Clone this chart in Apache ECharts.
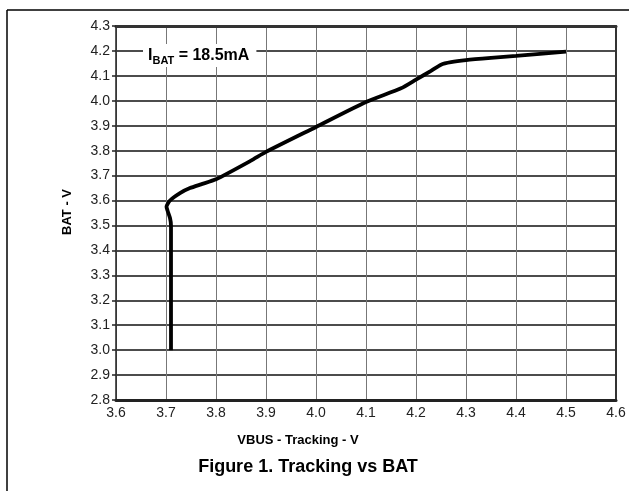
<!DOCTYPE html>
<html>
<head>
<meta charset="utf-8">
<script src="https://cdn.jsdelivr.net/npm/echarts@6/dist/echarts.min.js"></script>
<style>
  html, body { margin: 0; padding: 0; background: #fff; }
  #chart { width: 629px; height: 491px; }
</style>
</head>
<body>
<div id="chart"></div>
<script>
// VBUS tracking (x) vs BAT voltage (y)
const vbus = [3.71, 3.71, 3.71, 3.708, 3.703, 3.701, 3.708, 3.728, 3.748, 3.77, 3.80, 3.87, 3.90, 4.00, 4.10, 4.17, 4.20, 4.23, 4.25, 4.27, 4.30, 4.35, 4.40, 4.50]
const bat = [3.00, 3.25, 3.50, 3.53, 3.56, 3.575, 3.60, 3.63, 3.65, 3.665, 3.685, 3.76, 3.795, 3.895, 3.995, 4.05, 4.085, 4.12, 4.145, 4.155, 4.163, 4.172, 4.18, 4.197]

const xMin = 3.6, xMax = 4.6
const yMin = 2.8, yMax = 4.3
const step = 0.1

const chart = echarts.init(document.getElementById('chart'))

const font = 'Liberation Sans, Arial, sans-serif'

const option = {
  animation: false,
  backgroundColor: '#fff',
  grid: { left: 116, top: 26, right: 13, bottom: 91 },
  xAxis: [
    {
      type: 'value',
      min: xMin,
      max: xMax,
      interval: step,
      axisLine: { show: true, lineStyle: { color: '#222', width: 3 } },
      axisTick: { show: false },
      axisLabel: {
        color: '#222',
        fontSize: 14,
        fontFamily: font,
        margin: 6,
        formatter: (v) => v.toFixed(1),
      },
      splitLine: { show: true, lineStyle: { color: '#777', width: 1 } },
    },
    {
      type: 'value',
      position: 'top',
      min: xMin,
      max: xMax,
      interval: step,
      axisLine: { show: true, lineStyle: { color: '#333', width: 3 } },
      axisTick: { show: false },
      axisLabel: { show: false },
      splitLine: { show: false },
    },
  ],
  yAxis: [
    {
      type: 'value',
      min: yMin,
      max: yMax,
      interval: step,
      axisLine: { show: true, lineStyle: { color: '#222', width: 1.5 } },
      axisTick: { show: true, length: 4, lineStyle: { color: '#222', width: 1.5 } },
      axisLabel: {
        color: '#222',
        fontSize: 14,
        fontFamily: font,
        margin: 6,
        formatter: (v) => v.toFixed(1),
      },
      splitLine: { show: true, lineStyle: { color: '#111', width: 1.7 } },
    },
    {
      type: 'value',
      position: 'right',
      min: yMin,
      max: yMax,
      interval: step,
      axisLine: { show: true, lineStyle: { color: '#333', width: 2 } },
      axisTick: { show: false },
      axisLabel: { show: false },
      splitLine: { show: false },
    },
  ],
  graphic: [
    // outer frame (top and left edges only)
    { type: 'line', shape: { x1: 7, y1: 10, x2: 629, y2: 10 }, style: { stroke: '#000', lineWidth: 1.5 } },
    { type: 'line', shape: { x1: 7, y1: 10, x2: 7, y2: 491 }, style: { stroke: '#000', lineWidth: 1.5 } },
    {
      type: 'text',
      x: 143,
      y: 44,
      z: 10,
      style: {
        text: '{a|I}{b|BAT}{a| = 18.5mA}',
        backgroundColor: '#fff',
        padding: [1, 7, 1, 5],
        rich: {
          a: { fontSize: 16, fontWeight: 'bold', fontFamily: font, fill: '#000' },
          b: { fontSize: 11, fontWeight: 'bold', fontFamily: font, fill: '#000', padding: [10, 0, 0, 0] },
        },
      },
    },
    {
      type: 'text',
      x: 67,
      y: 212,
      rotation: Math.PI / 2,
      style: {
        text: 'BAT - V',
        fontSize: 13,
        fontWeight: 'bold',
        fontFamily: font,
        fill: '#000',
        align: 'center',
        verticalAlign: 'middle',
      },
    },
    {
      type: 'text',
      x: 298,
      y: 440,
      style: {
        text: 'VBUS - Tracking - V',
        fontSize: 13,
        fontWeight: 'bold',
        fontFamily: font,
        fill: '#000',
        align: 'center',
        verticalAlign: 'middle',
      },
    },
    {
      type: 'text',
      x: 308,
      y: 467,
      style: {
        text: 'Figure 1. Tracking vs BAT',
        fontSize: 18,
        fontWeight: 'bold',
        fontFamily: font,
        fill: '#000',
        align: 'center',
        verticalAlign: 'middle',
      },
    },
  ],
  series: [
    {
      type: 'line',
      data: vbus.map((v, i) => [v, bat[i]]),
      showSymbol: false,
      smooth: 0.2,
      lineStyle: { color: '#000', width: 3.8 },
      z: 5,
    },
  ],
}

chart.setOption(option)
</script>
</body>
</html>
